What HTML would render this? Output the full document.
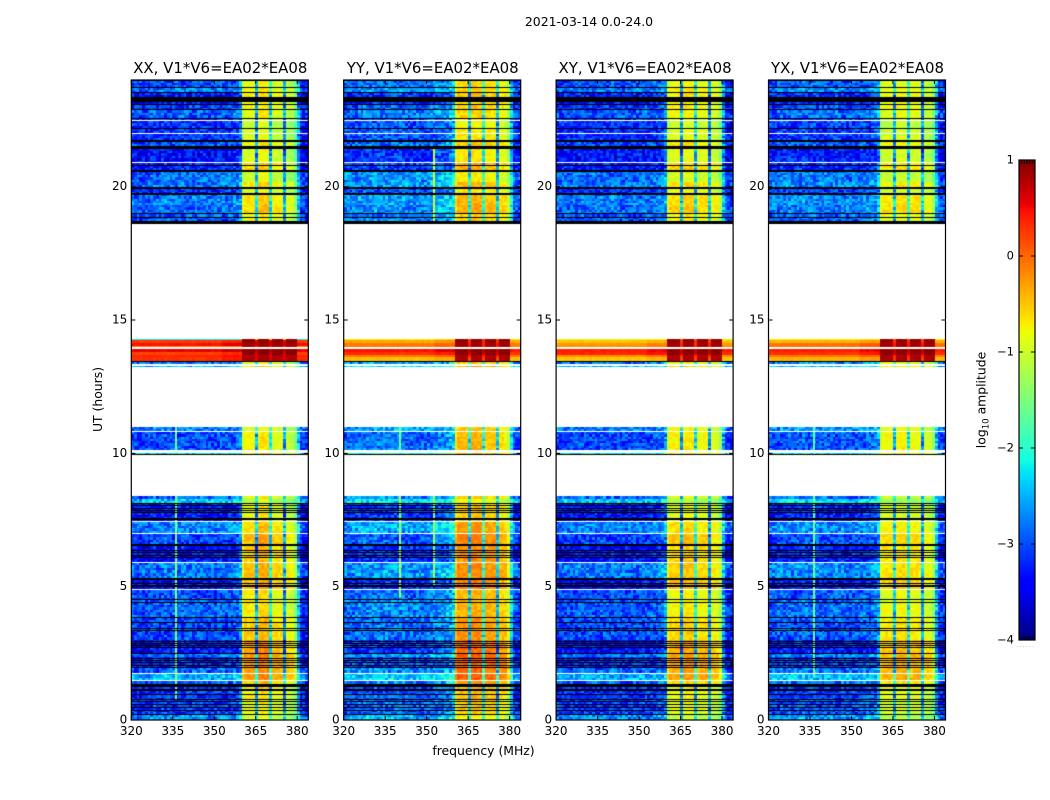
<!DOCTYPE html>
<html lang="en">
<head>
<meta charset="utf-8">
<title>2021-03-14 0.0-24.0 amplitude waterfall</title>
<style>
html,body{margin:0;padding:0;background:#fff}
#stage{position:relative;width:1050px;height:800px;overflow:hidden;background:#fff}
canvas{position:absolute;display:block}
svg{position:absolute;left:0;top:0}
text{font-family:"DejaVu Sans","Liberation Sans",sans-serif;fill:#000}
</style>
</head>
<body>
<div id="stage">
<svg id="overlay" width="1050" height="800" viewBox="0 0 1050 800">
<text x="589" y="26" text-anchor="middle" font-size="12.45">2021-03-14 0.0-24.0</text>
<text x="483.5" y="755" text-anchor="middle" font-size="12.4">frequency (MHz)</text>
<text transform="translate(102 399.5) rotate(-90)" text-anchor="middle" font-size="12.4">UT (hours)</text>
<text transform="translate(985.5 400) rotate(-90)" text-anchor="middle" font-size="12.4">log<tspan font-size="8.6" dy="3">10</tspan><tspan dy="-3"> amplitude</tspan></text>
</svg>
</div>
<script>
// ----- Figure data, estimated by eye from the reference -----
const panelTitles = ["XX, V1*V6=EA02*EA08","YY, V1*V6=EA02*EA08","XY, V1*V6=EA02*EA08","YX, V1*V6=EA02*EA08"];
const xTicks = [320,335,350,365,380];
const yTicks = [0,5,10,15,20];
const colorTicks = [1,0,-1,-2,-3,-4];

// Mean log10 amplitude per 1 MHz channel (320-383 MHz), one array per polarisation.
const spectrumXX = [-3.15,-3.15,-3.2,-3.2,-3.15,-3.2,-3.15,-3.1,-3.1,-3.15,-3.1,-3.1,-3.05,-3.1,-3.05,-3.1,-3.05,-3.1,-3.05,-3.05,-3.1,-3.1,-3.05,-3.1,-3.1,-3.05,-3.1,-3.1,-3.15,-3.1,-3.1,-3.05,-3.05,-3.05,-3.1,-3.05,-3.05,-3,-2.95,-2.75,-0.95,-0.7,-0.7,-0.7,-0.7,-2.6,-0.55,-0.55,-0.55,-0.55,-2.3,-0.8,-0.8,-0.8,-0.8,-2.75,-0.95,-1,-1.05,-1.4,-2.6,-3.25,-3.3,-3.35];
const spectrumYY = [-3.05,-3.05,-3.1,-3.05,-3.05,-3,-3,-2.95,-3,-3,-3,-2.95,-2.95,-3,-2.95,-2.95,-3,-2.95,-3,-3,-2.95,-3,-3,-3.05,-3,-3.05,-3,-3,-3.05,-3.05,-3,-2.95,-2.9,-2.9,-2.85,-2.85,-2.8,-2.75,-2.7,-2.5,-0.9,-0.65,-0.65,-0.65,-0.65,-2.5,-0.6,-0.6,-0.6,-0.6,-2.3,-0.7,-0.7,-0.7,-0.7,-2.65,-0.85,-0.85,-0.9,-1.3,-2.5,-3.15,-3.2,-3.3];
const spectrumXY = [-3.15,-3.15,-3.1,-3.1,-3.15,-3.15,-3.1,-3.1,-3.05,-3.1,-3.1,-3.05,-3.1,-3.05,-3.1,-3.1,-3.05,-3.05,-3.1,-3.1,-3.05,-3.1,-3.1,-3.1,-3.15,-3.1,-3.1,-3.1,-3.1,-3.1,-3.1,-3.05,-3.05,-3.1,-3.05,-3,-3,-2.95,-2.9,-2.7,-1,-0.75,-0.75,-0.75,-0.75,-2.6,-0.7,-0.7,-0.7,-0.7,-2.3,-0.8,-0.8,-0.8,-0.8,-2.7,-0.9,-0.9,-0.95,-1.35,-2.6,-3.2,-3.3,-3.35];
const spectrumYX = [-3.1,-3.1,-3.1,-3.1,-3.05,-3.05,-3.05,-3.05,-3.05,-3.05,-3,-3.05,-3,-3.05,-3.05,-3.05,-3,-3.05,-3.05,-3.05,-3.05,-3.1,-3.05,-3.1,-3.05,-3.1,-3.05,-3.1,-3.1,-3.1,-3.05,-3.05,-3.05,-3.05,-3,-3,-3,-2.95,-2.9,-2.7,-1.05,-0.85,-0.85,-0.85,-0.85,-2.6,-0.8,-0.8,-0.8,-0.8,-2.3,-0.85,-0.85,-0.85,-0.85,-2.7,-1,-1,-1.05,-1.4,-2.6,-3.2,-3.25,-3.35];

// Observed time ranges: top hour, bottom hour, out-of-band offset level, in-band offset.
const timeBlocks = [
 [24,23.7,-2.85,-0.05],[23.7,23.55,-2.6,0.05],[23.55,23.36,-3.1,0.1],[23.36,23.06,-3.15,0],
 [23.06,22.87,-2.9,0.05],[22.87,22.57,-2.75,0],[22.57,22.2,-3,-0.2],[22.2,21.71,-3,-0.1],
 [21.71,21.52,-2.85,0.1],[21.52,20.89,-3.15,-0.1],[20.89,20.62,-3.1,0.2],[20.62,20.17,-2.65,-0.15],
 [20.17,19.95,-2.6,0.15],[19.95,19.72,-3,-0.1],[19.72,19.31,-2.6,0.2],[19.31,18.97,-2.65,0.25],[18.97,18.6,-2.8,0.05],
 [13.48,13.35,-2.6,-0.2],[13.28,13.24,-2.3,0],
 [11,10.84,-2.55,-0.2],[10.8,10.12,-2.85,-0.1],[10,9.975,-2,0],
 [8.4,8.28,-2.7,-0.2],[8.28,8.13,-2.2,-0.5],[8.13,7.44,-3.15,-0.2],[7.44,7.02,-2.55,0.05],
 [7.02,6.6,-2.9,0.2],[6.6,5.9,-3.2,0.1],[5.9,5.32,-2.6,0.15],[5.32,4.87,-3.2,0.2],
 [4.87,4.5,-2.85,-0.1],[4.5,3.85,-2.75,-0.05],[3.85,3,-2.85,0.1],[3,2.51,-3.15,0.3],
 [2.51,2.35,-2.6,0.4],[2.35,1.96,-3.05,0.4],[1.96,1.77,-2.7,0.35],[1.77,1.47,-2.35,0.4],
 [1.47,1.35,-2.7,0.1],[1.35,0.75,-3,-0.1],[0.75,0.21,-2.9,-0.2],[0.21,0,-2.5,-0.4]
];

// Bright interval near 14 UT: row edges and levels per polarisation.
const burstHours = [14.29,14.25,14.15,14.03,13.91,13.8,13.69,13.6,13.48];
const burstXX = [-2.2,0.25,0.45,-0.1,0.55,0.2,0.35,0.3];
const burstYY = [-0.7,-0.35,-0.1,-0.1,0.45,0.3,-0.1,-0.45];
const burstXY = [-0.9,-0.5,-0.25,-0.2,0.4,0.35,-0.2,-0.5];
const burstYX = [-0.75,-0.4,-0.05,-0.05,0.4,0.3,-0.1,-0.4];
const burstBand = [0.9,0.9,0.85,0.8,0.95,0.95,0.8,0.8];

// In-band shift per polarisation for [above 15 UT, 9-15 UT, below 9 UT].
const bandShiftXX = [-0.15,0,0.05];
const bandShiftYY = [0.05,0.3,0.3];
const bandShiftXY = [-0.05,0.1,0.05];
const bandShiftYX = [-0.05,0.15,0.05];
// Out-of-band shift per polarisation.
const skyShift = [0,0.1,0,0.05];

// Narrow interference stripes: panel, channel, top hour, bottom hour, level.
const rfiStripes = [
 [0,16,11,10.12,-1.6],[0,16,8.4,0.8,-1.5],
 [1,20,11,10.12,-1.6],[1,20,8.4,4.6,-1.3],[1,32,8.4,5,-1.3],[1,32,21.4,18.7,-1],
 [3,16,11,10.12,-1.7],[3,16,8.4,1.6,-1.6]
];

// Black flagged integrations, [top hour, bottom hour].
const blackFlags = [
 [24,23.955],[23.75,23.71],[23.55,23.51],[23.36,23.19],[23.1,23.06],[22.91,22.86],[22.575,22.54],[22.2,22.16],
 [21.75,21.69],[21.525,21.41],[20.83,20.79],[20.64,20.57],[19.97,19.91],[19.78,19.72],[19.01,18.96],[18.88,18.84],[18.71,18.6],
 [13.48,13.44],[9.975,9.93],
 [8.12,8.08],[8.056,8.016],[7.96,7.92],[7.86,7.82],[7.79,7.75],[7.58,7.54],[7.55,7.51],[6.61,6.57],[6.545,6.505],
 [6.36,6.32],[6.31,6.27],[6.17,6.13],[6.12,6.08],[5.33,5.29],[5.27,5.23],[5.15,5.11],[5.08,5.04],[5.02,4.98],
 [4.52,4.48],[4.42,4.38],[3.86,3.82],[3.68,3.64],[3.46,3.42],[3.38,3.34],[2.96,2.92],[2.88,2.84],[2.81,2.77],[2.73,2.69],
 [2.53,2.49],[2.33,2.29],[2.26,2.22],[2.18,2.14],[2.08,2.04],[1.98,1.94],[1.35,1.24],[1.18,1.14],[1.11,1.07],[0.96,0.92],
 [0.77,0.73],[0.71,0.67],[0.61,0.57],[0.48,0.44],[0.36,0.32],[0.23,0.19]
];
// White (no data) single integrations, [top hour, bottom hour].
const whiteFlags = [
 [22.5,22.46],[22,21.96],[20.91,20.87],[14,13.97],[13.95,13.91],[13.35,13.28],[10.84,10.8],
 [7.445,7.405],[7.02,6.98],[5.91,5.87],[4.895,4.855],[1.77,1.73],[1.49,1.45]
];
// Fine-grain residuals. These were not read cell by cell from the reference;
// they are a hand-typed texture approximating the speckle seen at this scale.
const grainResiduals = [0.31,-0.72,0.14,0.88,-0.41,-0.05,0.63,-0.94,0.27,-0.18,0.76,-0.59,0.02,0.49,-0.83,0.37,-0.26,0.95,-0.67,0.11,-0.36,0.58,-0.12,0.81,-0.91,0.22,0.44,-0.53,0.69,-0.08,-0.75,0.17,0.91,-0.32,0.06,-0.62,0.52,-0.21,0.34,-0.87,0.73,-0.44,0.09,0.61,-0.98,0.28,-0.15,0.84,-0.56,0.19,0.42,-0.77,-0.03,0.66,-0.29,0.97,-0.69,0.12,-0.47,0.56,0.24,-0.85,0.39,-0.11,0.79,-0.64,0.04,-0.38,0.93,-0.52,0.16,0.71,-0.24,-0.89,0.47,0.08,-0.61,0.33,0.86,-0.16,-0.79,0.54,-0.43,0.21,-0.07,0.68,-0.96,0.36,0.13,-0.34,0.59,-0.71,0.26,0.83,-0.49,-0.01,0.41];

// Matplotlib jet colormap breakpoints: [position, value].
const jetRed = [[0,0],[0.35,0],[0.66,1],[0.89,1],[1,0.5]];
const jetGreen = [[0,0],[0.125,0],[0.375,1],[0.64,1],[0.91,0],[1,0]];
const jetBlue = [[0,0.5],[0.11,1],[0.34,1],[0.65,0],[1,0]];

// ----- Scales and layout -----
const spectra = [spectrumXX,spectrumYY,spectrumXY,spectrumYX];
const bursts = [burstXX,burstYY,burstXY,burstYX];
const bandShifts = [bandShiftXX,bandShiftYY,bandShiftXY,bandShiftYX];
const PANEL_TOP = 80, PANEL_H = 640, PANEL_W = 177;
const panelLeft = i => 131.3 + 212.4 * i;
const xScale = mhz => (mhz - 320) / 64 * PANEL_W;
const yScale = hour => PANEL_TOP + (24 - hour) / 24 * PANEL_H;
const CB_X = 1019, CB_W = 16, CB_TOP = 160, CB_H = 480;
const cbScale = v => CB_TOP + (1 - v) / 5 * CB_H;

function ramp(stops, t){
  for (let i = 1; i < stops.length; i++) {
    if (t <= stops[i][0]) {
      const f = (t - stops[i-1][0]) / (stops[i][0] - stops[i-1][0]);
      return stops[i-1][1] + f * (stops[i][1] - stops[i-1][1]);
    }
  }
  return stops[stops.length-1][1];
}
function jet(v){
  const t = Math.max(0, Math.min(1, (v + 4) / 5));
  return "rgb(" + Math.round(255*ramp(jetRed,t)) + "," + Math.round(255*ramp(jetGreen,t)) + "," + Math.round(255*ramp(jetBlue,t)) + ")";
}
const bandFraction = s => s > -1.6 ? 1 : 0;
const grainAt = (r,c,p) => grainResiduals[(r*r*5 + c*c*3 + r*c*7 + r*13 + c*29 + p*17) % grainResiduals.length];
const sectionOf = h => h > 15 ? 0 : (h > 9 ? 1 : 2);

const stage = document.getElementById("stage");
const svg = document.getElementById("overlay");
const NS = "http://www.w3.org/2000/svg";
function svgEl(tag, attrs, text){
  const el = document.createElementNS(NS, tag);
  for (const k in attrs) el.setAttribute(k, attrs[k]);
  if (text !== undefined) el.textContent = text;
  svg.appendChild(el);
  return el;
}
const tickStyle = {stroke:"#000","stroke-width":1};

function drawRow(ctx,p,top,bot,rowId,valueAt){
  const y0 = Math.round(yScale(top)-PANEL_TOP), y1 = Math.round(yScale(bot)-PANEL_TOP);
  if (y1 <= y0) return;
  for (let c = 0; c < 64; c++) {
    const x0 = Math.round(xScale(320+c)), x1 = Math.round(xScale(321+c));
    ctx.fillStyle = jet(valueAt(c));
    ctx.fillRect(x0,y0,x1-x0,y1-y0);
  }
}

panelTitles.forEach((title,p) => {
  const left = panelLeft(p);
  const canvas = document.createElement("canvas");
  
  
  canvas.width = PANEL_W; canvas.height = PANEL_H;
  canvas.style.left = Math.round(left) + "px";
  canvas.style.top = PANEL_TOP + "px";
  stage.insertBefore(canvas, svg);
  const ctx = canvas.getContext("2d");
  ctx.fillStyle = "#fff"; ctx.fillRect(0,0,PANEL_W,PANEL_H);
  const spec = spectra[p], shift = bandShifts[p];
  let rowId = 0;

  timeBlocks.forEach(block => {
    const [hTop,hBot,sky,band] = block;
    const n = Math.max(1, Math.round((hTop-hBot)/0.09));
    for (let r = 0; r < n; r++) {
      const top = hTop-(hTop-hBot)*r/n, bot = hTop-(hTop-hBot)*(r+1)/n;
      const id = rowId++;
      drawRow(ctx,p,top,bot,id,c => {
        const f = bandFraction(spec[c]);
        const offset = f ? band+shift[sectionOf(top)] : sky+2.9+skyShift[p];
        return spec[c] + offset + grainAt(id,c,p)*(f ? 0.16 : 0.46);
      });
    }
  });

  for (let i = 0; i < burstBand.length; i++) {
    const id = rowId++;
    drawRow(ctx,p,burstHours[i],burstHours[i+1],id,c => {
      const inBand = c >= 40 && c <= 59;
      const f = bandFraction(spec[c]) ? 1 : (inBand ? 0.55 : 0);
      return bursts[p][i]*(1-f) + burstBand[i]*f + (c>32&&c<40?0.12:0) + grainAt(id,c,p)*0.05;
    });
  }

  rfiStripes.filter(s => s[0]===p).forEach(s => {
    const x0 = Math.round(xScale(320+s[1]));
    const y0 = Math.round(yScale(s[2])-PANEL_TOP), y1 = Math.round(yScale(s[3])-PANEL_TOP);
    ctx.fillStyle = jet(s[4]);
    ctx.fillRect(x0,y0,2,y1-y0);
  });
  ctx.fillStyle = "#fff";
  whiteFlags.forEach(f => {
    const y0 = Math.round(yScale(f[0])-PANEL_TOP);
    ctx.fillRect(0,y0,PANEL_W,Math.max(1,Math.round(yScale(f[1])-yScale(f[0]))));
  });
  ctx.fillStyle = "#000";
  blackFlags.forEach(f => {
    const y0 = Math.round(yScale(f[0])-PANEL_TOP);
    ctx.fillRect(0,y0,PANEL_W,Math.max(1,Math.round(yScale(f[1])-yScale(f[0]))));
  });

  // Frame
  const frame = svgEl("rect",{x:left,y:PANEL_TOP,width:PANEL_W,height:PANEL_H,fill:"none",stroke:"#000","stroke-width":1.2});
  
  

  // Title
  const t = svgEl("text",{x:left+PANEL_W/2+0.5,y:73,"text-anchor":"middle","font-size":14.95},title);
  
  

  // X ticks
  xTicks.forEach(v => {
    const x = left + xScale(v);
    const b = svgEl("line",Object.assign({x1:x,x2:x,y1:720,y2:716},tickStyle));
    
    
    const u = svgEl("line",Object.assign({x1:x,x2:x,y1:80,y2:84},tickStyle));
    
    
    const lab = svgEl("text",{x:x,y:735,"text-anchor":"middle","font-size":12},String(v));
    
    
  });
  // Y ticks
  yTicks.forEach(v => {
    const y = yScale(v);
    const l = svgEl("line",Object.assign({x1:left,x2:left+4,y1:y,y2:y},tickStyle));
    
    
    const r = svgEl("line",Object.assign({x1:left+PANEL_W,x2:left+PANEL_W-4,y1:y,y2:y},tickStyle));
    
    
    const lab = svgEl("text",{x:left-4,y:y+3.5,"text-anchor":"end","font-size":12},String(v));
    
    
  });
});

// ----- Colorbar -----
const cbCanvas = document.createElement("canvas");


cbCanvas.width = CB_W; cbCanvas.height = CB_H;
cbCanvas.style.left = CB_X + "px";
cbCanvas.style.top = CB_TOP + "px";
stage.insertBefore(cbCanvas, svg);
const cbCtx = cbCanvas.getContext("2d");
for (let i = 0; i < CB_H; i++) {
  cbCtx.fillStyle = jet(1 - (i + 0.5) / CB_H * 5);
  cbCtx.fillRect(0,i,CB_W,1);
}
const cbFrame = svgEl("rect",{x:CB_X,y:CB_TOP,width:CB_W,height:CB_H,fill:"none",stroke:"#000","stroke-width":1.2});


colorTicks.forEach(v => {
  const y = cbScale(v);
  const l = svgEl("line",Object.assign({x1:CB_X,x2:CB_X+4,y1:y,y2:y},tickStyle));
  
  
  const r = svgEl("line",Object.assign({x1:CB_X+CB_W,x2:CB_X+CB_W-4,y1:y,y2:y},tickStyle));
  
  
  const lab = svgEl("text",{x:1014,y:y+3.5,"text-anchor":"end","font-size":11.5},String(v).replace("-","\u2212"));
  
  
});
for (let i = 1; i <= 5; i++) {
  const x = CB_X + CB_W * i / 6;
  const a = svgEl("line",Object.assign({x1:x,x2:x,y1:CB_TOP,y2:CB_TOP+4},tickStyle));
  
  
  const b = svgEl("line",Object.assign({x1:x,x2:x,y1:CB_TOP+CB_H,y2:CB_TOP+CB_H-4},tickStyle));
  
  
}
const cbDots = svgEl("text",{x:CB_X+CB_W/2-1,y:647,"text-anchor":"middle","font-size":5,"letter-spacing":"1.6",style:"fill:#777"},"......");


</script>
</body>
</html>
